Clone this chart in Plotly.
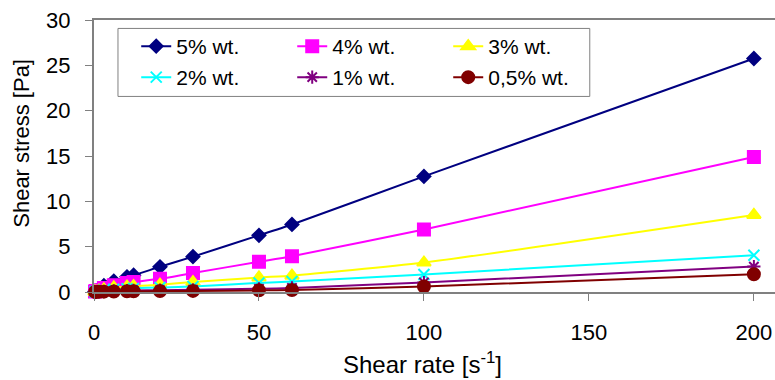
import plotly.graph_objects as go

# Shear rate [1/s]
shear_rate = [0.3, 0.6, 1.5, 3, 6, 10, 12, 20, 30, 50, 60, 100, 200]

# Shear stress [Pa] for each concentration
stress_5 = [0.05, 0.1, 0.3, 0.7, 1.2, 1.67, 1.85, 2.78, 3.9, 6.25, 7.45, 12.75, 25.75]
stress_4 = [0.05, 0.1, 0.2, 0.45, 0.75, 1.0, 1.1, 1.45, 2.1, 3.33, 3.95, 6.9, 14.9]
stress_3 = [0.03, 0.05, 0.15, 0.3, 0.5, 0.6, 0.65, 0.8, 1.1, 1.6, 1.8, 3.25, 8.5]
stress_2 = [0.02, 0.04, 0.1, 0.2, 0.3, 0.35, 0.4, 0.5, 0.6, 1.0, 1.15, 1.93, 4.05]
stress_1 = [0.01, 0.02, 0.05, 0.08, 0.12, 0.15, 0.17, 0.2, 0.25, 0.35, 0.45, 1.05, 2.8]
stress_05 = [0.01, 0.01, 0.02, 0.04, 0.06, 0.08, 0.09, 0.1, 0.12, 0.18, 0.22, 0.6, 1.95]

series_names = ["5% wt.", "4% wt.", "3% wt.", "2% wt.", "1% wt.", "0,5% wt."]
series_values = [stress_5, stress_4, stress_3, stress_2, stress_1, stress_05]
colors = ["#000080", "#FF00FF", "#FFFF00", "#00FFFF", "#800080", "#800000"]
symbols = ["diamond", "square", "triangle-up", "x-thin-open", "asterisk-open", "circle"]
sizes = [10, 12, 12, 11, 11, 12]
legend_ids = ["legend", "legend", "legend", "legend2", "legend2", "legend2"]

FONT = "Liberation Sans, Arial, sans-serif"

fig = go.Figure()
for name, vals, col, sym, sz, lg in zip(series_names, series_values, colors,
                                        symbols, sizes, legend_ids):
    fig.add_trace(go.Scatter(
        x=shear_rate, y=vals, name=name, mode="lines+markers",
        line=dict(color=col, width=2, shape="spline", smoothing=0.6),
        marker=dict(symbol=sym, size=sz, color=col,
                    line=dict(color=col, width=2)),
        cliponaxis=False, legend=lg,
    ))

axis_common = dict(
    showgrid=False, zeroline=False, showline=True, linecolor="#808080",
    linewidth=2, ticks="outside", ticklen=7, tickcolor="#808080",
    tickwidth=1, tickfont=dict(family=FONT, size=22, color="black"),
)

legend_common = dict(
    orientation="h", xanchor="left", yanchor="middle",
    bgcolor="rgba(0,0,0,0)", borderwidth=0,
    entrywidth=111, entrywidthmode="pixels",
    font=dict(family=FONT, size=21, color="black"),
)

fig.update_layout(
    width=775, height=380,
    margin=dict(l=94, r=0, t=20, b=88),
    paper_bgcolor="white", plot_bgcolor="white",
    font=dict(family=FONT, color="black"),
    xaxis=dict(range=[0, 206.4], tickvals=[0, 50, 100, 150, 200],
               mirror=True, ticklabelstandoff=13, **axis_common),
    yaxis=dict(range=[0, 30], tickvals=[0, 5, 10, 15, 20, 25, 30],
               ticklabelstandoff=10, **axis_common),
    legend=dict(x=0.062, y=0.9026, **legend_common),
    legend2=dict(x=0.062, y=0.7886, **legend_common),
    shapes=[dict(type="rect", xref="paper", yref="paper",
                 x0=0.0352, x1=0.728, y0=0.719, y1=0.969,
                 line=dict(color="#808080", width=1), fillcolor="white",
                 layer="below")],
    annotations=[
        dict(text="Shear stress [Pa]", xref="paper", yref="paper",
             x=-0.106, y=0.548, textangle=-90, showarrow=False,
             xanchor="center", yanchor="middle",
             font=dict(family=FONT, size=22, color="black")),
        dict(text="Shear rate [s<sup>-1</sup>]", xref="paper", yref="paper",
             x=0.482, y=-0.26, showarrow=False,
             xanchor="center", yanchor="middle",
             font=dict(family=FONT, size=24, color="black")),
    ],
)

fig.write_html("out.html")
